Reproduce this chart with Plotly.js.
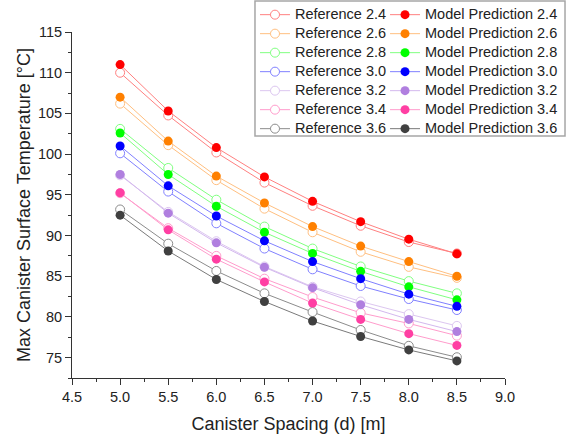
<!DOCTYPE html>
<html>
<head>
<meta charset="utf-8">
<script src="https://cdn.plot.ly/plotly-3.0.1.min.js"></script>
<style>html,body{margin:0;padding:0;background:#fff;}#chart{width:571px;height:436px;}</style>
</head>
<body>
<div id="chart"></div>
<script>
// Data
const spacing = [5.0, 5.5, 6.0, 6.5, 7.0, 7.5, 8.0, 8.5];

const ref24 = [110.0, 104.75, 100.2, 96.5, 93.65, 91.2, 89.2, 87.8];
const mod24 = [111.0, 105.3, 100.8, 97.2, 94.2, 91.7, 89.55, 87.75];
const ref26 = [106.2, 101.1, 96.8, 93.3, 90.4, 88.0, 86.15, 84.8];
const mod26 = [107.0, 101.6, 97.3, 94.0, 91.1, 88.7, 86.8, 85.0];
const ref28 = [103.1, 98.3, 94.4, 91.1, 88.4, 86.2, 84.4, 82.9];
const mod28 = [102.6, 97.5, 93.6, 90.4, 87.8, 85.6, 83.7, 82.1];
const ref30 = [100.1, 95.4, 91.5, 88.4, 85.85, 83.8, 82.2, 80.85];
const mod30 = [101.0, 96.1, 92.4, 89.35, 86.8, 84.7, 82.8, 81.3];
const ref32 = [97.4, 92.9, 89.3, 86.2, 83.7, 81.9, 80.35, 78.9];
const mod32 = [97.5, 92.75, 89.1, 86.1, 83.6, 81.5, 79.7, 78.2];
const ref34 = [95.2, 90.9, 87.5, 84.7, 82.45, 80.5, 79.2, 77.7];
const mod34 = [95.25, 90.7, 87.1, 84.3, 81.7, 79.7, 77.95, 76.5];
const ref36 = [93.2, 89.0, 85.65, 82.9, 80.6, 78.4, 76.45, 75.05];
const mod36 = [92.5, 88.1, 84.6, 81.9, 79.5, 77.6, 75.95, 74.6];

const groupLabels = ["2.4", "2.6", "2.8", "3.0", "3.2", "3.4", "3.6"];
const refSeries = [ref24, ref26, ref28, ref30, ref32, ref34, ref36];
const modSeries = [mod24, mod26, mod28, mod30, mod32, mod34, mod36];

// Styles
const lightColors = ["#ff8080", "#ffbf80", "#80ff80", "#8080ff", "#dcc6f0", "#ff9ccc", "#8c8c8c"];
const solidColors = ["#ff0000", "#ff8000", "#00ff00", "#0000ff", "#b07fdf", "#ff3fa3", "#404040"];
const modLineColors = ["#ff8080", "#ffbf80", "#80ff80", "#8080ff", "#d3b8ee", "#ff9ccc", "#7a7a7a"];

const FONT = "Arial, 'Liberation Sans', sans-serif";
const wrap = s => '<span style="font-size:14.5px">' + s + '</span>';

const traces = [];
groupLabels.forEach((g, i) => {
  traces.push({
    x: spacing, y: refSeries[i], type: 'scatter', mode: 'lines+markers',
    name: wrap('Reference ' + g), legend: 'legend',
    line: {color: lightColors[i], width: 1},
    marker: {symbol: 'circle', size: 9, color: '#ffffff', line: {color: lightColors[i], width: 1}}
  });
});
groupLabels.forEach((g, i) => {
  traces.push({
    x: spacing, y: modSeries[i], type: 'scatter', mode: 'lines+markers',
    name: wrap('Model Prediction ' + g), legend: 'legend2',
    line: {color: modLineColors[i], width: 1},
    marker: {symbol: 'circle', size: 9, color: solidColors[i], line: {width: 0}}
  });
});

const axisCommon = {
  showgrid: false, zeroline: false, showline: true, linecolor: '#333', linewidth: 1,
  ticks: 'outside', ticklen: 6, tickwidth: 1, tickcolor: '#333',
  tickfont: {family: FONT, size: 14.5, color: '#222'}, mirror: false
};

const layout = {
  width: 571, height: 436,
  margin: {l: 72, r: 66, t: 32, b: 58, autoexpand: false},
  paper_bgcolor: '#fff', plot_bgcolor: '#fff',
  font: {family: FONT, color: '#222'},
  showlegend: true,
  xaxis: Object.assign({}, axisCommon, {
    range: [4.5, 9.0], tick0: 4.5, dtick: 0.5, tickformat: '.1f',
    minor: {dtick: 0.25, ticks: 'outside', ticklen: 3, tickcolor: '#333'},
    title: {text: 'Canister Spacing (d) [m]', font: {family: FONT, size: 18, color: '#222'}, standoff: 12}
  }),
  yaxis: Object.assign({}, axisCommon, {
    range: [72.5, 115], tick0: 0, dtick: 5,
    minor: {dtick: 2.5, ticks: 'outside', ticklen: 3, tickcolor: '#333'},
    title: {text: 'Max Canister Surface Temperature [°C]', font: {family: FONT, size: 18, color: '#222'}, standoff: 2}
  }),
  legend: {
    x: 0.4226, xanchor: 'left', y: 1.092, yanchor: 'top',
    bgcolor: 'rgba(0,0,0,0)', borderwidth: 0, orientation: 'v',
    font: {family: FONT, size: 12, color: '#222'}, traceorder: 'normal'
  },
  legend2: {
    x: 0.7229, xanchor: 'left', y: 1.092, yanchor: 'top',
    bgcolor: 'rgba(0,0,0,0)', borderwidth: 0, orientation: 'v',
    font: {family: FONT, size: 12, color: '#222'}, traceorder: 'normal'
  },
  shapes: [{
    type: 'rect', xref: 'paper', yref: 'paper',
    x0: 0.4226, x1: 1.1386, y0: 0.6994, y1: 1.0896,
    line: {color: '#a6a6a6', width: 1.5}, fillcolor: '#ffffff', layer: 'above'
  }]
};

Plotly.newPlot('chart', traces, layout, {displayModeBar: false, staticPlot: true});
</script>
</body>
</html>
